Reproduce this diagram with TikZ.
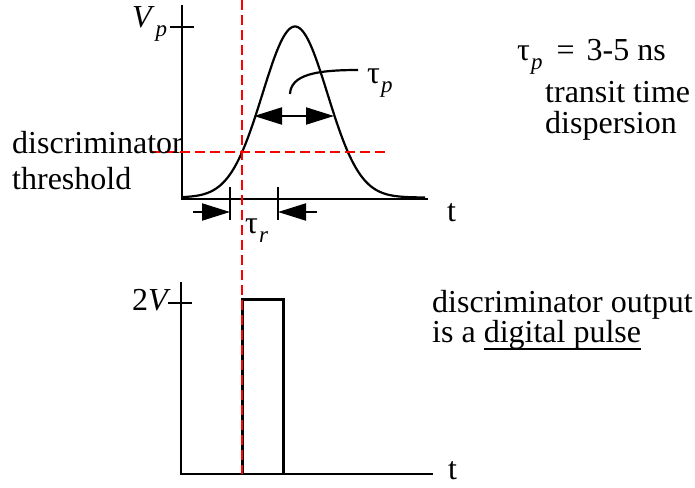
\documentclass[tikz,border=0pt]{standalone}
\usepackage{fontspec}
\setmainfont{Liberation Serif}
\usetikzlibrary{arrows.meta}
\newcommand\subsc[1]{\raisebox{-9pt}{\fontsize{23}{23}\selectfont\itshape #1}}
\newsavebox\myulbox
\newcommand\myul[1]{\sbox\myulbox{#1}\rlap{\rule[-8.2pt]{\wd\myulbox}{2.4pt}}\usebox\myulbox}
\begin{document}
\begin{tikzpicture}[x=1pt,y=-1pt,
  axis/.style={line width=2.8pt},
  pulseline/.style={line width=3pt, line join=miter},
  reddash/.style={red, line width=2pt, dash pattern=on 10pt off 5pt},
  bighead/.tip={Triangle[length=28pt,width=17pt]},
  bigarrow/.style={line width=2pt,-bighead},
  bar/.style={line width=2.4pt},
  curveline/.style={line width=2.2pt},
  txt/.style={inner sep=0pt, anchor=base west, font=\fontsize{32}{36}\selectfont},
]
\useasboundingbox (0,0) rectangle (695,487);
% ---- top plot
\coordinate (tyTop) at (182,5);
\coordinate (tO) at (182,199);
\coordinate (txEnd) at (428,199);
\draw[axis] (tyTop) -- (tO) -- (txEnd);
\coordinate (tickL) at (170,27);
\coordinate (tickR) at (194,27);
\draw[axis] (tickL) -- (tickR);
\draw[curveline] plot[domain=183:425, samples=140, smooth] (\x, {197.5-171*exp(-0.5*((\x-295)/32.5)^2)});
% tau_p double arrow
\coordinate (wL) at (254,116);
\coordinate (wR) at (334,116);
\draw[line width=2pt, bighead-bighead] (wL) -- (wR);
% leader
\coordinate (ldA) at (290,94);
\coordinate (ldB) at (358,70);
\draw[curveline] (ldA) .. controls (291,75) and (315,70) .. (ldB);
% tau_r arrows and bars
\coordinate (b1t) at (230,187);
\coordinate (b1b) at (230,220);
\coordinate (b2t) at (278,187);
\coordinate (b2b) at (278,220);
\draw[bar] (b1t) -- (b1b);
\draw[bar] (b2t) -- (b2b);
\coordinate (a1s) at (193,212);
\coordinate (a1e) at (230,212);
\coordinate (a2s) at (317,212);
\coordinate (a2e) at (278,212);
\draw[bigarrow] (a1s) -- (a1e);
\draw[bigarrow] (a2s) -- (a2e);
% ---- bottom plot
\coordinate (byTop) at (181,282);
\coordinate (bO) at (181,474);
\coordinate (bxEnd) at (433,474);
\draw[axis] (byTop) -- (bO) -- (bxEnd);
\coordinate (btL) at (168,303);
\coordinate (btR) at (192,303);
\draw[axis] (btL) -- (btR);
\coordinate (p1) at (242,474);
\coordinate (p2) at (242,299);
\coordinate (p3) at (283,299);
\coordinate (p4) at (283,474);
\draw[pulseline] (p1) -- (p2) -- (p3) -- (p4);
% ---- red dashed lines
\coordinate (rvT) at (242,0);
\coordinate (rvB) at (242,474);
\draw[reddash] (rvT) -- (rvB);
\coordinate (rhL) at (150,152);
\coordinate (rhR) at (385,152);
\draw[reddash] (rhL) -- (rhR);
% ---- texts
\node[txt] (vp) at (132,28) {\itshape V\kern4pt\subsc{p}};
\node[txt] (twoV) at (132,310) {2\textit{V}};
\node[txt] (t1) at (447,221) {t};
\node[txt] (t2) at (448,479) {t};
\node[txt] (taup) at (367,83) {τ\kern1pt\subsc{p}};
\node[txt] (taur) at (245,233) {τ\kern1pt\subsc{r}};
\node[txt] (disc) at (12,153) {discriminator};
\node[txt] (thr) at (12,189) {threshold};
\node[txt] (eq) at (517,60) {τ\kern1pt\subsc{p}\hspace{14pt}=\hspace{12pt}3-5 ns};
\node[txt] (tt) at (545,102) {transit time};
\node[txt] (disp) at (545,133) {dispersion};
\node[txt] (dout) at (432,312) {discriminator output};
\node[txt] (dig) at (432,342) {is a \myul{digital pulse}};
\end{tikzpicture}
\end{document}
